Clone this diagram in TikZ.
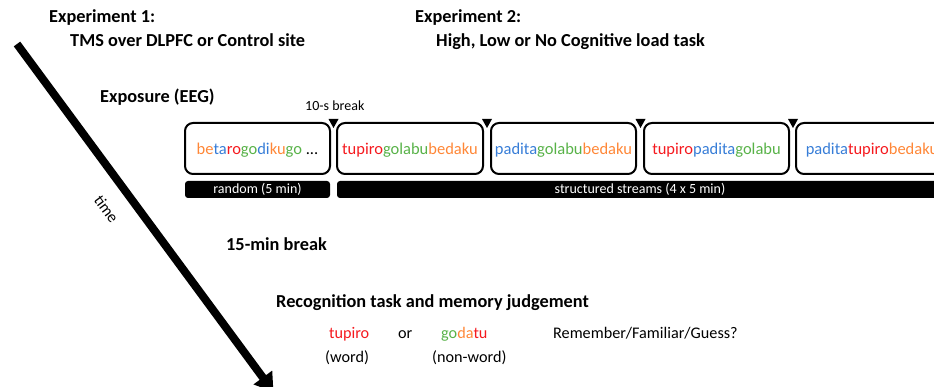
\documentclass[tikz,border=0pt]{standalone}
\usepackage{fontspec}
\setmainfont{Carlito}
\usetikzlibrary{arrows.meta}

\definecolor{sylOrange}{RGB}{255,135,55}
\definecolor{sylBlue}{RGB}{55,125,215}
\definecolor{sylRed}{RGB}{245,25,30}
\definecolor{sylGreen}{RGB}{88,178,72}

% syllable colouring
\newcommand\sylO[1]{\textcolor{sylOrange}{#1}}
\newcommand\sylB[1]{\textcolor{sylBlue}{#1}}
\newcommand\sylR[1]{\textcolor{sylRed}{#1}}
\newcommand\sylG[1]{\textcolor{sylGreen}{#1}}

\begin{document}
\begin{tikzpicture}[x=1pt,y=-1pt,
  heading/.style={font=\fontsize{18.3}{22}\selectfont\bfseries, anchor=base west, inner sep=0pt},
  plain/.style={font=\fontsize{16.2}{19}\selectfont, anchor=base west, inner sep=0pt},
  streambox/.style={draw, line width=2pt, rounded corners=8pt, minimum height=51pt,
    text height=13pt, text depth=0pt, inner sep=0pt, font=\fontsize{16.5}{19}\selectfont},
  barbox/.style={fill=black, rounded corners=3pt, minimum height=17pt, inner sep=0pt,
    text=white, font=\fontsize{14}{16}\selectfont},
  breakmark/.style={fill=black},
]
\useasboundingbox (0,0) rectangle (934,387);

% headings
\node[heading] (exp1) at (49,22.7) {Experiment 1:};
\node[heading] (exp1b) at (70,46.5) {TMS over DLPFC or Control site};
\node[heading] (exp2) at (415,22.7) {Experiment 2:};
\node[heading] (exp2b) at (436,46.3) {High, Low or No Cognitive load task};
\node[heading] (expo) at (100,102.7) {Exposure (EEG)};
\node[plain, font=\fontsize{14}{16}\selectfont] (brk) at (305,110.7) {10-s break};

\begin{scope}
\clip (0,0) rectangle (934,387);

% exposure streams
\node[streambox, minimum width=145pt] (s1) at (257.5,148.5)
  {\sylO{be}\sylB{ta}\sylR{ro}\sylG{go}\sylB{di}\sylO{ku}\sylG{go} ...};
\node[streambox, minimum width=146pt] (s2) at (410,148.5)
  {\sylR{tupiro}\sylG{golabu}\sylO{bedaku}};
\node[streambox, minimum width=145pt] (s3) at (563.5,148.5)
  {\sylB{padita}\sylG{golabu}\sylO{bedaku}};
\node[streambox, minimum width=145pt] (s4) at (716.5,148.5)
  {\sylR{tupiro}\sylB{padita}\sylG{golabu}};
\node[streambox, minimum width=152pt] (s5) at (872,148.5)
  {\sylB{padita}\sylR{tupiro}\sylO{bedaku}};

% break markers between streams
\foreach \bx in {333.5,487,640.5,793}
  \fill[breakmark] (\bx-5,119) -- (\bx+5,119) -- (\bx,128) -- cycle;

% phase bars
\node[barbox, minimum width=145pt] (rnd) at (257.5,189.5) {random (5 min)};
\node[barbox, minimum width=606pt] (str) at (640,189.5) {structured streams (4 x 5 min)};

% time axis
\coordinate (tstart) at (17,44);
\coordinate (tend) at (273.5,392);
\draw[line width=8pt, -{Triangle[width=22pt,length=18pt]}] (tstart) -- (tend);
\end{scope}
\node[font=\fontsize{16}{19}\selectfont, rotate=-53.6, inner sep=0pt] (time) at (106.5,209) {time};

% test phase
\node[heading] (pause) at (226,250.7) {15-min break};
\node[heading] (recog) at (276,307.7) {Recognition task and memory judgement};
\node[plain] (w1) at (329,338.3) {\sylR{tupiro}};
\node[plain] (or) at (398,338.3) {or};
\node[plain] (w2) at (441,338.3) {\sylG{go}\sylO{da}\sylR{tu}};
\node[plain] (judge) at (553,338.3) {Remember/Familiar/Guess?};
\node[plain] (l1) at (325,362) {(word)};
\node[plain] (l2) at (432,362) {(non-word)};
\end{tikzpicture}
\end{document}
